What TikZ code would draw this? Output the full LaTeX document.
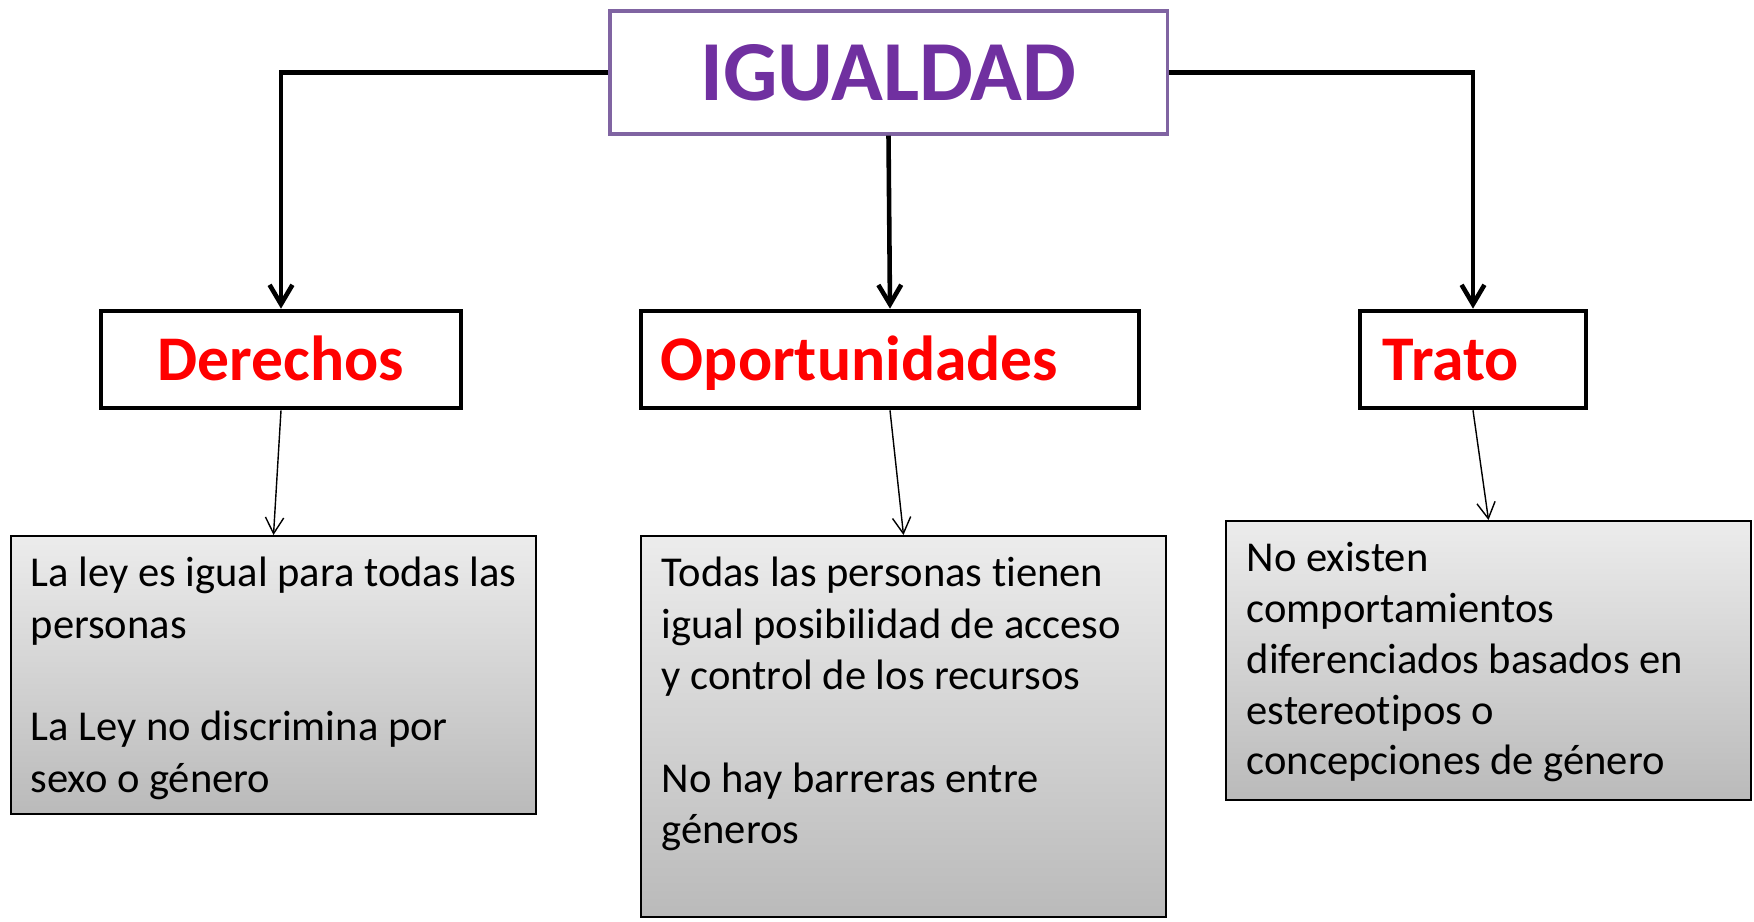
\documentclass[tikz,border=0pt]{standalone}
\usepackage{fontspec}
\setmainfont[RawFeature={-liga;-clig;-calt;-dlig}]{Carlito}
\usetikzlibrary{arrows.meta}
\definecolor{igpurple}{HTML}{7030A0}
\definecolor{igborder}{HTML}{8064A2}
\definecolor{shtop}{RGB}{236,236,236}
\definecolor{shbot}{RGB}{186,186,186}
\tikzset{
  thickconn/.style={line width=1.3pt, -{Straight Barb[length=5.5pt,width=6.5pt]}},
  thinconn/.style={line width=0.4pt, -{Straight Barb[length=4.6pt,width=5.2pt]}},
  labelbox/.style={draw=black, line width=1.3pt, minimum height=0.97cm, inner ysep=0pt,
     text height=0.5cm, text depth=0.08cm,
     font=\fontsize{18.1pt}{20pt}\selectfont\bfseries, text=red},
  infobox/.style={draw=black, line width=0.5pt, top color=shtop, bottom color=shbot,
     minimum width=5.25cm, inner sep=0pt},
  infotext/.style={anchor=north west, inner sep=0pt, align=left,
     font=\fontsize{12.1pt}{14.6pt}\selectfont}
}
\begin{document}
\begin{tikzpicture}[x=0.01cm, y=-0.01cm]
\useasboundingbox (0,0) rectangle (1754,922);
% title
\node[draw=igborder, line width=0.95pt, minimum width=5.57cm, minimum height=1.23cm, inner sep=0pt,
      text height=0.65cm, text depth=0.1cm,
      text=igpurple, font=\fontsize{24.3pt}{26pt}\selectfont\bfseries] (ig) at (888.5,72.5) {IGUALDAD};
% label boxes
\node[labelbox, text width=3.2cm, inner xsep=0.2cm, align=center] (der) at (281,359.5) {Derechos};
\node[labelbox, text width=4.58cm, inner xsep=0.2cm, align=left] (op) at (890,359.5) {Oportunidades};
\node[labelbox, text width=1.80cm, inner xsep=0.23cm, align=left] (tra) at (1473,359.5) {Trato};
% info boxes
\node[infobox, minimum height=2.78cm] (b1) at (273.5,675) {};
\node[infobox, minimum height=3.81cm] (b2) at (903.5,726.5) {};
\node[infobox, minimum height=2.79cm] (b3) at (1488.5,660.5) {};
\node[infotext] (t1) at (30,550) {\rule{0pt}{0.36cm}La ley es igual para todas las\\personas\\[14.6pt]La Ley no discrimina por\\sexo o género};
\node[infotext] (t2) at (661,550) {\rule{0pt}{0.36cm}Todas las personas tienen\\igual posibilidad de acceso\\y control de los recursos\\[14.6pt]No hay barreras entre\\géneros};
\node[infotext, font=\fontsize{12.1pt}{14.45pt}\selectfont] (t3) at (1246,535) {\rule{0pt}{0.36cm}No existen\\comportamientos\\diferenciados basados en\\estereotipos o\\concepciones de género};
% connectors
\draw[thickconn] (ig.west) -| (der.north);
\draw[thickconn] (ig.south) -- (op.north);
\draw[thickconn] (ig.east) -| (tra.north);
\draw[thinconn] (der.south) -- (b1.north);
\draw[thinconn] (op.south) -- (b2.north);
\draw[thinconn] (tra.south) -- (b3.north);
\end{tikzpicture}
\end{document}
